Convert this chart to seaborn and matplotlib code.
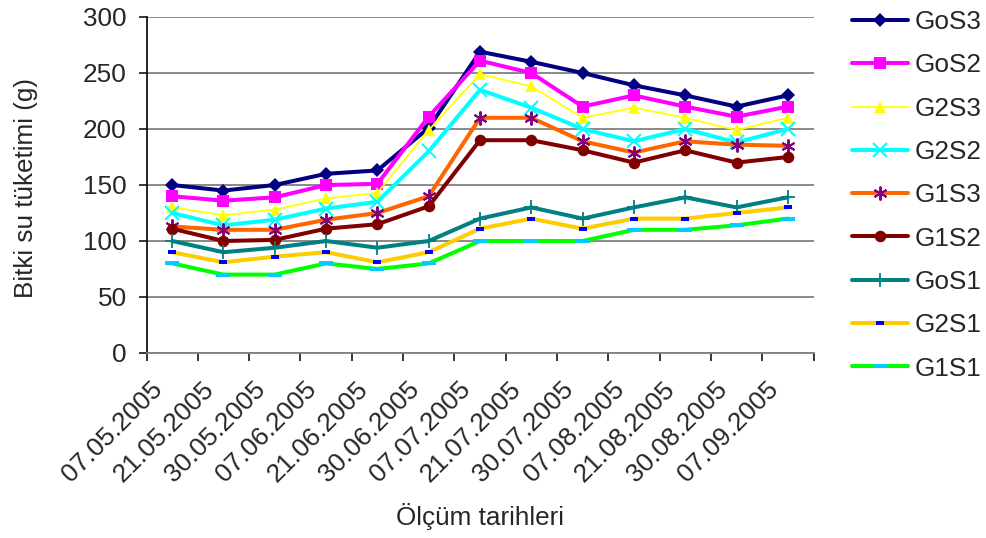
import numpy as np
import pandas as pd
import matplotlib
matplotlib.use("Agg")
import matplotlib.pyplot as plt
import matplotlib.transforms as mtransforms
import seaborn as sns

# Measurement dates
dates = ["07.05.2005", "21.05.2005", "30.05.2005", "07.06.2005", "21.06.2005",
         "30.06.2005", "07.07.2005", "21.07.2005", "30.07.2005", "07.08.2005",
         "21.08.2005", "30.08.2005", "07.09.2005"]

# Plant water consumption (g) per treatment
gos3 = [150, 145, 150, 160, 163, 201, 269, 260, 250, 239, 230, 220, 230]
gos2 = [140, 136, 139, 150, 151, 211, 261, 250, 220, 230, 220, 211, 220]
g2s3 = [130, 123, 128, 138, 143, 199, 249, 238, 210, 219, 210, 199, 210]
g2s2 = [125, 114, 119, 129, 135, 180, 235, 219, 200, 189, 200, 188, 200]
g1s3 = [113, 110, 110, 119, 125, 140, 210, 210, 189, 179, 189, 186, 185]
g1s2 = [111, 100, 101, 111, 115, 131, 190, 190, 181, 170, 181, 170, 175]
gos1 = [100, 90, 94, 100, 94, 100, 120, 130, 120, 130, 139, 130, 139]
g2s1 = [90, 81, 86, 90, 81, 90, 111, 120, 111, 120, 120, 125, 130]
g1s1 = [80, 70, 70, 80, 75, 80, 100, 100, 100, 110, 110, 114, 120]

names = ["GoS3", "GoS2", "G2S3", "G2S2", "G1S3", "G1S2", "GoS1", "G2S1", "G1S1"]
series = [gos3, gos2, g2s3, g2s2, g1s3, g1s2, gos1, g2s1, g1s1]

sns.set_style("white")
plt.rcParams["font.family"] = ["Liberation Sans", "DejaVu Sans"]
FS = 18.8

# Small horizontal bar markers
def bar_marker(ratio):
    return [(-1, -ratio), (1, -ratio), (1, ratio), (-1, ratio), (-1, -ratio)]

styles = {
    "GoS3": dict(color="#000080", lw=2.9, marker="D", ms=7.2, mfc="#000080", mec="#000080", mew=0),
    "GoS2": dict(color="#FF00FF", lw=2.9, marker="s", ms=8.2, mfc="#FF00FF", mec="#FF00FF", mew=0),
    "G2S3": dict(color="#FFFF00", lw=1.3, marker="^", ms=9, mfc="#FFFF00", mec="#FFFF00", mew=0),
    "G2S2": dict(color="#00FFFF", lw=2.9, marker="x", ms=9.5, mfc="#00FFFF", mec="#00FFFF", mew=1.5),
    "G1S3": dict(color="#FF6600", lw=2.9, marker=(6, 2, 0), ms=10, mfc="#800080", mec="#800080", mew=1.4),
    "G1S2": dict(color="#800000", lw=2.9, marker="o", ms=8.3, mfc="#800000", mec="#800000", mew=0),
    "GoS1": dict(color="#008080", lw=2.9, marker="+", ms=10, mfc="#008080", mec="#008080", mew=1.3),
    "G2S1": dict(color="#FFCC00", lw=2.9, marker=bar_marker(0.5), ms=5.8, mfc="#0000FF", mec="#0000FF", mew=0),
    "G1S1": dict(color="#00FF00", lw=2.9, marker=bar_marker(0.3), ms=9.4, mfc="#00CCFF", mec="#00CCFF", mew=0),
}

x = np.arange(len(dates))
df = pd.DataFrame({"x": np.tile(x, len(names)),
                   "value": np.concatenate(series),
                   "group": np.repeat(names, len(dates))})

fig = plt.figure(figsize=(9.86, 5.38), dpi=100)
ax = fig.add_axes([146.5 / 986, 1 - 353 / 538, (813.5 - 146.5) / 986, (353 - 17) / 538])

for name in names:
    st = styles[name]
    sub = df[df["group"] == name]
    sns.lineplot(data=sub, x="x", y="value", ax=ax, label=name,
                 color=st["color"], linewidth=st["lw"], marker=st["marker"],
                 markersize=st["ms"], markerfacecolor=st["mfc"],
                 markeredgecolor=st["mec"], markeredgewidth=st["mew"])

ax.set_xlim(-0.5, len(dates) - 0.5)
ax.set_ylim(0, 300)
ax.set_yticks(np.arange(0, 301, 50))
ax.yaxis.grid(True, color="#808080", linewidth=1.3)
ax.set_axisbelow(True)

for side in ["top", "right"]:
    ax.spines[side].set_visible(False)
ax.spines["left"].set_color("black")
ax.spines["left"].set_linewidth(1.2)
ax.spines["bottom"].set_color("#808080")
ax.spines["bottom"].set_linewidth(1.3)

ax.tick_params(axis="y", direction="out", length=5.8, width=1.1, color="black",
               labelsize=FS, pad=8.5, left=True)
ax.set_xticks(x)
ax.set_xticklabels(dates, rotation=45, ha="right", rotation_mode="anchor")
ax.set_xticks(np.arange(-0.5, len(dates), 1), minor=True)
ax.tick_params(axis="x", which="major", length=0, labelsize=FS, pad=17)
ax.tick_params(axis="x", which="minor", direction="out", length=6, width=1.1,
               color="black", bottom=True)
offset = mtransforms.ScaledTranslation(-22 / 100, 0, fig.dpi_scale_trans)
for lab in ax.get_xticklabels():
    lab.set_transform(lab.get_transform() + offset)

ax.set_xlabel("Ölçüm tarihleri", fontsize=FS, labelpad=12)
ax.set_ylabel("Bitki su tüketimi (g)", fontsize=FS)
ax.yaxis.set_label_coords(38 / 986, 1 - 188 / 538, transform=fig.transFigure)

leg = ax.legend(loc="upper left", bbox_to_anchor=(852 / 986, 1 - 10 / 538),
                bbox_transform=fig.transFigure, frameon=False, fontsize=FS,
                handlelength=2.15, handletextpad=0.23, labelspacing=0.74,
                borderpad=0, borderaxespad=0)

fig.savefig("out.png", dpi=100)
